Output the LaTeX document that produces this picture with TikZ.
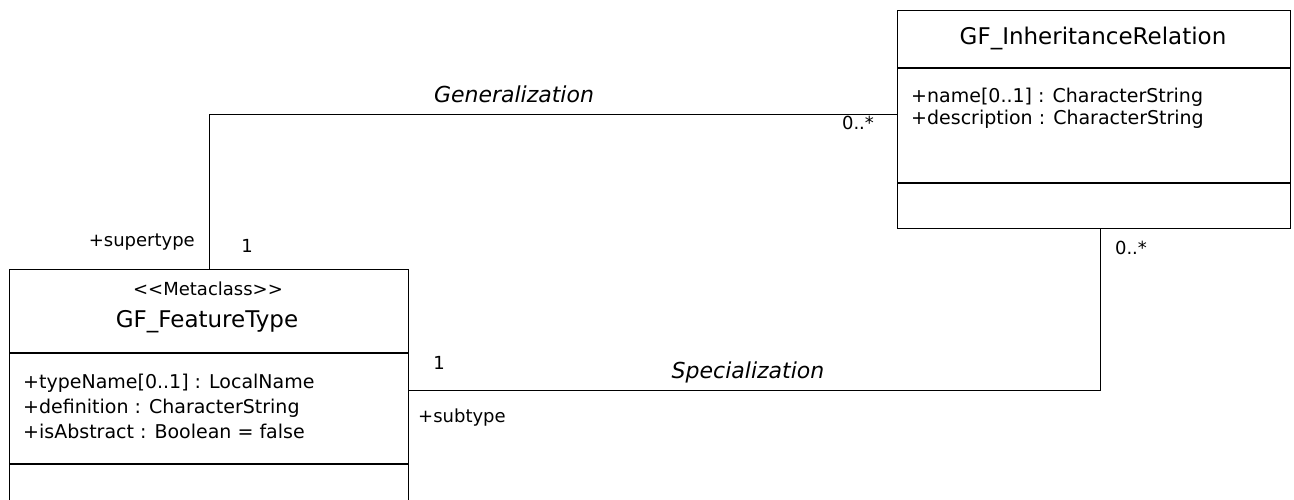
\documentclass[tikz,border=0pt]{standalone}
\usepackage{fontspec}
\setmainfont{DejaVu Sans}
\usetikzlibrary{positioning}
\tikzset{
	classbox/.style={rectangle, draw=black, line width=1.1pt, anchor=north west, inner sep=0pt, minimum width=#1},
	classname/.style={font=\fontsize{23}{27}\selectfont, anchor=base, inner sep=0pt},
	stereo/.style={font=\fontsize{18}{21}\selectfont, anchor=base, inner sep=0pt},
	attrline/.style={font=\fontsize{19}{22}\selectfont, anchor=base west, inner sep=0pt},
	rolelabel/.style={font=\fontsize{18}{21}\selectfont, inner sep=0pt},
	assoclabel/.style={font=\itshape\fontsize{22}{26}\selectfont, anchor=base, inner sep=0pt},
	assocline/.style={line width=1.1pt}
}

\begin{document}
\begin{tikzpicture}[x=1pt, y=1pt]
		\path[use as bounding box, clip] (0,0) rectangle (1294,499);

		% GF_InheritanceRelation
		\node[classbox=393pt, minimum height=57pt] at (897,489) (ir-name) {};
		\node[classbox=393pt, minimum height=114pt, below=0pt of ir-name] (ir-attr) {};
		\node[classbox=393pt, minimum height=45pt, below=0pt of ir-attr] (ir-ops) {};
		\node[classname] at (1093,454) (ir-title) {GF\_InheritanceRelation};
		\node[attrline] at (911,396) (ir-a1) {+name[0..1] : CharacterString};
		\node[attrline] at (911,374) (ir-a2) {+description : CharacterString};

		% GF_FeatureType
		\node[classbox=399pt, minimum height=83pt] at (9,230) (ft-name) {};
		\node[classbox=399pt, minimum height=110pt, below=0pt of ft-name] (ft-attr) {};
		\node[classbox=399pt, minimum height=50pt, below=0pt of ft-attr] (ft-ops) {};
		\node[stereo] at (208,204) (ft-stereo) {<{}<Metaclass>{}>};
		\node[classname] at (207,172) (ft-title) {GF\_FeatureType};
		\node[attrline] at (23,111) (ft-a1) {+typeName[0..1] : LocalName};
		\node[attrline] at (23,86) (ft-a2) {+definition : CharacterString};
		\node[attrline] at (23,61) (ft-a3) {+isAbstract : Boolean = false};

		%Lines
		\draw[assocline] (ft-name.north) |- ([yshift=11pt]ir-attr.west);
		\draw[assocline] ([yshift=18pt]ft-attr.east) -| ([xshift=6.5pt]ir-ops.south);

		%Labels
		\node[assoclabel] at (514,396) (gen) {Generalization};
		\node[assoclabel] at (748,121) (spec) {Specialization};
		\node[rolelabel, anchor=base east] at (195,252) (sup-role) {+supertype};
		\node[rolelabel, anchor=base] at (247,247) (sup-mult) {1};
		\node[rolelabel, anchor=base] at (858,369) (gen-mult) {0..*};
		\node[rolelabel, anchor=base west] at (418,77) (sub-role) {+subtype};
		\node[rolelabel, anchor=base] at (439,130) (sub-mult) {1};
		\node[rolelabel, anchor=base] at (1131,245) (spec-mult) {0..*};
	\end{tikzpicture}
\end{document}
